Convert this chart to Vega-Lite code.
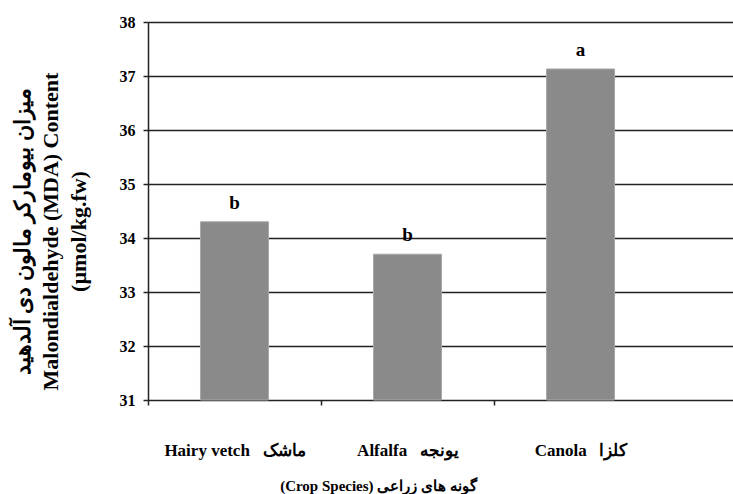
{
  "$schema": "https://vega.github.io/schema/vega-lite/v6.json",
  "width": 585,
  "height": 378,
  "autosize": {"type": "none"},
  "padding": {"left": 148, "top": 22, "right": 0, "bottom": 94},
  "background": "white",
  "config": {
    "view": {"stroke": null},
    "font": "Liberation Serif"
  },
  "data": {
    "values": [
      {"crop": "Hairy vetch\u00a0\u00a0\u00a0ماشک", "mda": 34.3, "sig": "b"},
      {"crop": "Alfalfa\u00a0\u00a0\u00a0یونجه", "mda": 33.7, "sig": "b"},
      {"crop": "Canola\u00a0\u00a0\u00a0کلزا", "mda": 37.13, "sig": "a"}
    ]
  },
  "encoding": {
    "x": {
      "field": "crop",
      "type": "nominal",
      "sort": null,
      "scale": {"paddingInner": 0.607, "paddingOuter": 0.494, "align": 0.307},
      "axis": {
        "title": "(Crop Species) گونه های زراعی",
        "titleFont": "Liberation Serif",
        "titleFontSize": 15,
        "titleFontWeight": "bold",
        "titleColor": "black",
        "titleX": 230,
        "titleY": 85,
        "titleBaseline": "middle",
        "titleAlign": "center",
        "labelAngle": 0,
        "labelFont": "Liberation Serif",
        "labelFontSize": 17,
        "labelFontWeight": "bold",
        "labelColor": "black",
        "labelPadding": 37,
        "labelBaseline": "top",
        "bandPosition": 0.5,
        "tickOffset": -86.5,
        "labelOffset": 86.5,
        "tickSize": 5,
        "tickColor": "#222",
        "tickWidth": 1.5,
        "domain": false,
        "grid": false
      }
    },
    "y": {
      "field": "mda",
      "type": "quantitative",
      "scale": {"domain": [31, 38], "nice": false, "zero": false},
      "axis": {
        "values": [31, 32, 33, 34, 35, 36, 37, 38],
        "title": ["میزان بیومارکر مالون دی آلدهید", "Malondialdehyde (MDA) Content", "(µmol/kg.fw)"],
        "titleFont": "Liberation Serif",
        "titleFontSize": 22,
        "titleFontWeight": "bold",
        "titleColor": "black",
        "titleLineHeight": 28,
        "titleAngle": -90,
        "titleX": -136,
        "titleY": 209,
        "titleAlign": "center",
        "titleBaseline": "top",
        "labelFont": "Liberation Serif",
        "labelFontSize": 16,
        "labelFontWeight": "bold",
        "labelColor": "black",
        "labelPadding": 8,
        "tickSize": 5,
        "tickColor": "#222",
        "tickWidth": 1.5,
        "domainColor": "#222",
        "domainWidth": 1.5,
        "grid": true,
        "gridColor": "#222",
        "gridWidth": 1.5
      }
    }
  },
  "layer": [
    {
      "mark": {"type": "bar", "color": "#8a8a8a", "stroke": "#a8a8a8", "strokeWidth": 1},
      "encoding": {"y2": {"datum": 31}}
    },
    {
      "mark": {"type": "text", "baseline": "bottom", "dy": -9, "font": "Liberation Serif", "fontSize": 19, "fontWeight": "bold", "color": "black"},
      "encoding": {"text": {"field": "sig"}}
    }
  ]
}
